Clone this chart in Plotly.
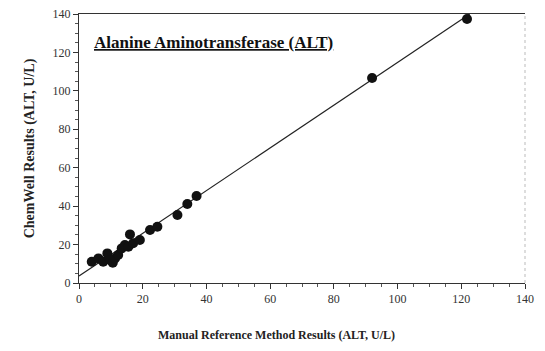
import plotly.graph_objects as go

# Data
manual_ref = [4.0, 6.1, 7.6, 8.9, 9.7, 10.6, 11.3, 12.3, 13.4, 14.4, 16.0, 15.5, 17.0,
              19.1, 22.3, 24.6, 30.9, 34.0, 36.9, 92.0, 121.8]
chemwell = [11.1, 12.8, 11.1, 15.4, 12.0, 10.6, 12.8, 14.6, 18.0, 19.8, 25.3, 18.9, 20.7,
            22.4, 27.6, 29.3, 35.4, 41.1, 45.3, 106.7, 137.4]

# Regression line (slope, intercept)
slope = 1.112
intercept = 3.6
axis_max = 140
tick_vals = [0, 20, 40, 60, 80, 100, 120, 140]

x_end = (axis_max - intercept) / slope
line_x = [0, x_end]
line_y = [intercept + slope * v for v in line_x]

font_serif = "Liberation Serif, Times New Roman, serif"

fig = go.Figure()
fig.add_trace(go.Scatter(x=line_x, y=line_y, mode="lines",
                         line=dict(color="#222", width=1.2), hoverinfo="skip"))
fig.add_trace(go.Scatter(x=manual_ref, y=chemwell, mode="markers",
                         marker=dict(color="#111", size=10, line=dict(width=0))))

axis_common = dict(
    range=[0, axis_max], tickvals=tick_vals, showgrid=False, zeroline=False,
    showline=True, linecolor="#333", linewidth=1, automargin=False,
    ticks="outside", ticklen=5, tickcolor="#333",
    minor=dict(dtick=5, ticks="outside", ticklen=3, tickcolor="#555"),
    tickfont=dict(family=font_serif, size=12, color="#333"),
)

fig.update_layout(
    width=545, height=351,
    margin=dict(l=79, r=20, t=14, b=68),
    paper_bgcolor="white", plot_bgcolor="white",
    showlegend=False,
    xaxis=dict(**axis_common, mirror=True),
    yaxis=dict(**axis_common,
               title=dict(text="<b>ChemWell Results (ALT, U/L)</b>",
                          font=dict(family=font_serif, size=14, color="#222"), standoff=14)),
    annotations=[
        dict(text="<b><u>Alanine Aminotransferase (ALT)</u></b>",
             x=0.03, y=0.895, xref="paper", yref="paper",
             xanchor="left", yanchor="middle", showarrow=False,
             font=dict(family=font_serif, size=17, color="#111")),
        dict(text="<b>Manual Reference Method Results (ALT, U/L)</b>",
             x=0.442, y=-0.193, xref="paper", yref="paper",
             xanchor="center", yanchor="middle", showarrow=False,
             font=dict(family=font_serif, size=12, color="#222")),
    ],
    shapes=[dict(type="line", xref="paper", yref="paper", x0=1, x1=1, y0=0, y1=1,
                 line=dict(color="#bbb", width=1, dash="dot"))],
)

fig.write_html("out.html", config={"displayModeBar": False},
               post_script="document.body.style.margin='0';document.body.style.overflow='hidden';")
